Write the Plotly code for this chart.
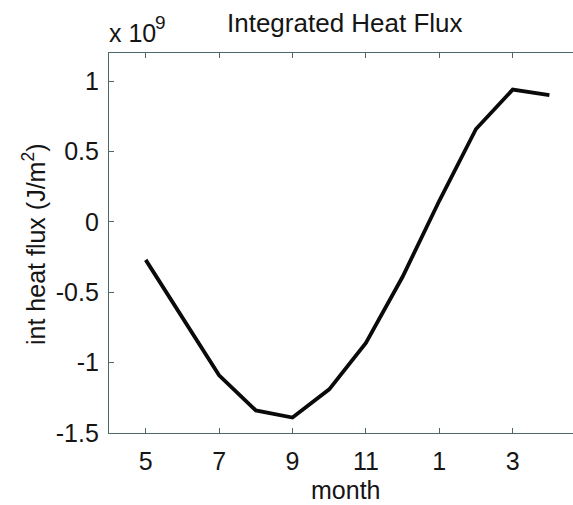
import plotly.graph_objects as go

# Integrated heat flux through the year, in units of 1e9 J/m^2
month_seq = [5, 6, 7, 8, 9, 10, 11, 12, 13, 14, 15, 16]
flux_e9 = [-0.27, -0.68, -1.09, -1.34, -1.39, -1.19, -0.86, -0.39, 0.15, 0.66, 0.94, 0.90]

x_tick_vals = [5, 7, 9, 11, 13, 15]
x_tick_text = ["5", "7", "9", "11", "1", "3"]
y_tick_vals = [-1.5, -1, -0.5, 0, 0.5, 1]
y_tick_text = ["-1.5", "-1", "-0.5", "0", "0.5", "1"]

W, H = 573, 505
L, R, T, B = 109, 0, 53, 72
FONT = "Liberation Sans, Arial, sans-serif"
TXT = "#151515"
AXC = "#4d6868"

plot_w = W - L - R
plot_h = H - T - B


def px_x(px):
    return (px - L) / plot_w


def px_y(py):
    return (H - B - py) / plot_h


fig = go.Figure()
fig.add_trace(go.Scatter(
    x=month_seq, y=flux_e9, mode="lines",
    line=dict(color="#0a0a0a", width=3.8),
    hoverinfo="skip", showlegend=False,
))

fig.update_layout(
    width=W, height=H,
    margin=dict(l=L, r=R, t=T, b=B, pad=0),
    paper_bgcolor="white", plot_bgcolor="white",
    font=dict(family=FONT, size=25, color=TXT),
    xaxis=dict(
        range=[4, 4 + plot_w / 36.7],
        tickmode="array", tickvals=x_tick_vals, ticktext=x_tick_text,
        ticks="inside", ticklen=5, tickwidth=1, tickcolor=AXC,
        showline=True, linecolor=AXC, linewidth=1.2, mirror="ticks",
        showgrid=False, zeroline=False,
        tickfont=dict(family=FONT, size=25, color=TXT),
        ticklabelstandoff=6,
    ),
    yaxis=dict(
        range=[-1.5, 1.2],
        tickmode="array", tickvals=y_tick_vals, ticktext=y_tick_text,
        ticks="inside", ticklen=5, tickwidth=1, tickcolor=AXC,
        showline=True, linecolor=AXC, linewidth=1.2, mirror=False,
        showgrid=False, zeroline=False,
        tickfont=dict(family=FONT, size=25, color=TXT),
        ticklabelstandoff=4,
    ),
)

annotations = [
    # title
    dict(text="Integrated Heat Flux", x=px_x(345), y=px_y(23),
         xanchor="center", yanchor="middle", font=dict(size=26)),
    # axis exponent
    dict(text="x 10", x=px_x(107), y=px_y(33),
         xanchor="left", yanchor="middle", font=dict(size=25)),
    dict(text="9", x=px_x(153), y=px_y(23),
         xanchor="left", yanchor="middle", font=dict(size=19)),
    # x label
    dict(text="month", x=px_x(345), y=px_y(490),
         xanchor="center", yanchor="middle", font=dict(size=25)),
    # y label
    dict(text="int heat flux (J/m<sup>2</sup>)", x=px_x(34), y=px_y(245),
         xanchor="center", yanchor="middle", textangle=-90, font=dict(size=25)),
]
for a in annotations:
    a.update(xref="paper", yref="paper", showarrow=False)
    a["font"].update(family=FONT, color=TXT)
fig.update_layout(annotations=annotations)

fig.write_html("out.html")
